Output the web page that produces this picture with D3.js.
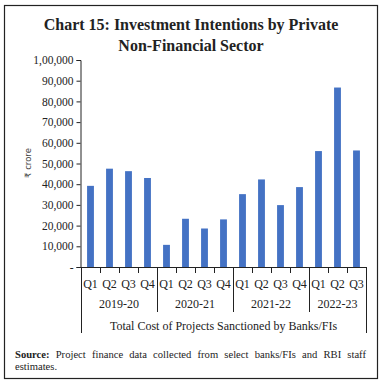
<!DOCTYPE html>
<html>
<head>
<meta charset="utf-8">
<script src="https://cdn.jsdelivr.net/npm/d3@7"></script>
<style>
body { margin: 0; background: #fff; }
#wrap { position: relative; width: 384px; height: 385px; }
#note { position: absolute; left: 15px; top: 349px; width: 351px; font-family: "Liberation Serif", serif; font-size: 10.6px; line-height: 11.5px; text-align: justify; color: #222; }
</style>
</head>
<body>
<div id="wrap"><div id="note"><b>Source:</b> Project finance data collected from select banks/FIs and RBI staff estimates.</div></div>
<script>
// data
var years = ["2019-20", "2020-21", "2021-22", "2022-23"];
var quarters = ["Q1", "Q2", "Q3", "Q4", "Q1", "Q2", "Q3", "Q4", "Q1", "Q2", "Q3", "Q4", "Q1", "Q2", "Q3"];
var yearOf = [0, 0, 0, 0, 1, 1, 1, 1, 2, 2, 2, 2, 3, 3, 3];
var values = [39200, 47500, 46300, 43000, 10700, 23300, 18600, 23000, 35200, 42300, 29900, 38600, 56000, 86700, 56300];
var yTicks = [0, 10000, 20000, 30000, 40000, 50000, 60000, 70000, 80000, 90000, 100000];

var W = 384, H = 385;
var plotL = 81, plotR = 366, plotT = 60, base = 267;

var svg = d3.select("#wrap").insert("svg", "#note")
	.attr("width", W)
	.attr("height", H)
	.style("position", "absolute").style("left", 0).style("top", 0);

// frame
svg.append("rect")
	.attr("x", 4.5).attr("y", 5.5)
	.attr("width", 373).attr("height", 373)
	.attr("fill", "none").attr("stroke", "#222").attr("stroke-width", 1.2);

// title
var title = svg.append("text")
	.attr("text-anchor", "middle")
	.attr("font-family", "Liberation Serif, serif")
	.attr("font-weight", "bold")
	.attr("font-size", 16)
	.attr("fill", "#222");
title.append("tspan").attr("x", 191).attr("y", 30).text("Chart 15: Investment Intentions by Private");
title.append("tspan").attr("x", 191).attr("y", 51).text("Non-Financial Sector");

var x = d3.scaleBand().domain(d3.range(values.length)).range([plotL, plotR]).paddingInner(0.64).paddingOuter(0.32);
var y = d3.scaleLinear().domain([0, 100000]).range([base, plotT]);

// bars
svg.selectAll(".bar").data(values).enter().append("rect")
	.attr("class", "bar")
	.attr("x", function(d, i){ return x(i); })
	.attr("y", function(d){ return y(d); })
	.attr("width", x.bandwidth())
	.attr("height", function(d){ return base - y(d); })
	.attr("fill", "#4472c4");

// y axis
var fmt = function(v){
	if (v == 0) return "-";
	return v.toLocaleString("en-IN");
};
var yAxis = svg.append("g")
	.attr("transform", "translate(" + (plotL - 0.5) + ",0)")
	.call(d3.axisLeft(y).tickValues(yTicks).tickFormat(fmt).tickSize(4).tickPadding(3));
yAxis.select(".domain").attr("stroke", "#222");
yAxis.selectAll(".tick line").attr("stroke", "#222");
yAxis.selectAll("text")
	.attr("font-family", "Liberation Serif, serif")
	.attr("font-size", 11.5)
	.attr("fill", "#222");

svg.append("text")
	.attr("transform", "translate(31,163) rotate(-90)")
	.attr("text-anchor", "middle")
	.attr("font-family", "DejaVu Sans, sans-serif")
	.attr("font-size", 8.5)
	.attr("fill", "#444")
	.text("₹ crore");

// category axis
var step = (plotR - plotL) / values.length;
svg.append("line")
	.attr("x1", plotL - 0.5).attr("x2", plotR)
	.attr("y1", base + 0.5).attr("y2", base + 0.5)
	.attr("stroke", "#222");

for (var i = 0; i <= values.length; i++){
	var xx = Math.round(plotL + i*step) + 0.5;
	var y2 = base + 6;
	if (i == 0 || i == values.length) y2 = 333;
	else if (yearOf[i] != yearOf[i-1]) y2 = 312;
	svg.append("line")
		.attr("x1", xx).attr("x2", xx)
		.attr("y1", base).attr("y2", y2)
		.attr("stroke", "#222");
}

svg.selectAll(".q").data(quarters).enter().append("text")
	.attr("class", "q")
	.attr("x", function(d, i){ return x(i) + x.bandwidth()/2; })
	.attr("y", 288)
	.attr("text-anchor", "middle")
	.attr("font-family", "Liberation Serif, serif")
	.attr("font-size", 12)
	.attr("fill", "#222")
	.text(function(d){ return d; });

years.forEach(function(yr, k){
	var idx = yearOf.map(function(v, i){ return v == k ? i : -1; }).filter(function(i){ return i >= 0; });
	var x0 = plotL + idx[0]*step, x1 = plotL + (idx[idx.length-1] + 1)*step;
	svg.append("text")
		.attr("x", (x0 + x1)/2)
		.attr("y", 308)
		.attr("text-anchor", "middle")
		.attr("font-family", "Liberation Serif, serif")
		.attr("font-size", 12)
		.attr("fill", "#222")
		.text(yr);
});

svg.append("text")
	.attr("x", (plotL + plotR)/2)
	.attr("y", 330)
	.attr("text-anchor", "middle")
	.attr("font-family", "Liberation Serif, serif")
	.attr("font-size", 12)
	.attr("fill", "#222")
	.text("Total Cost of Projects Sanctioned by Banks/FIs");
</script>
</body>
</html>
